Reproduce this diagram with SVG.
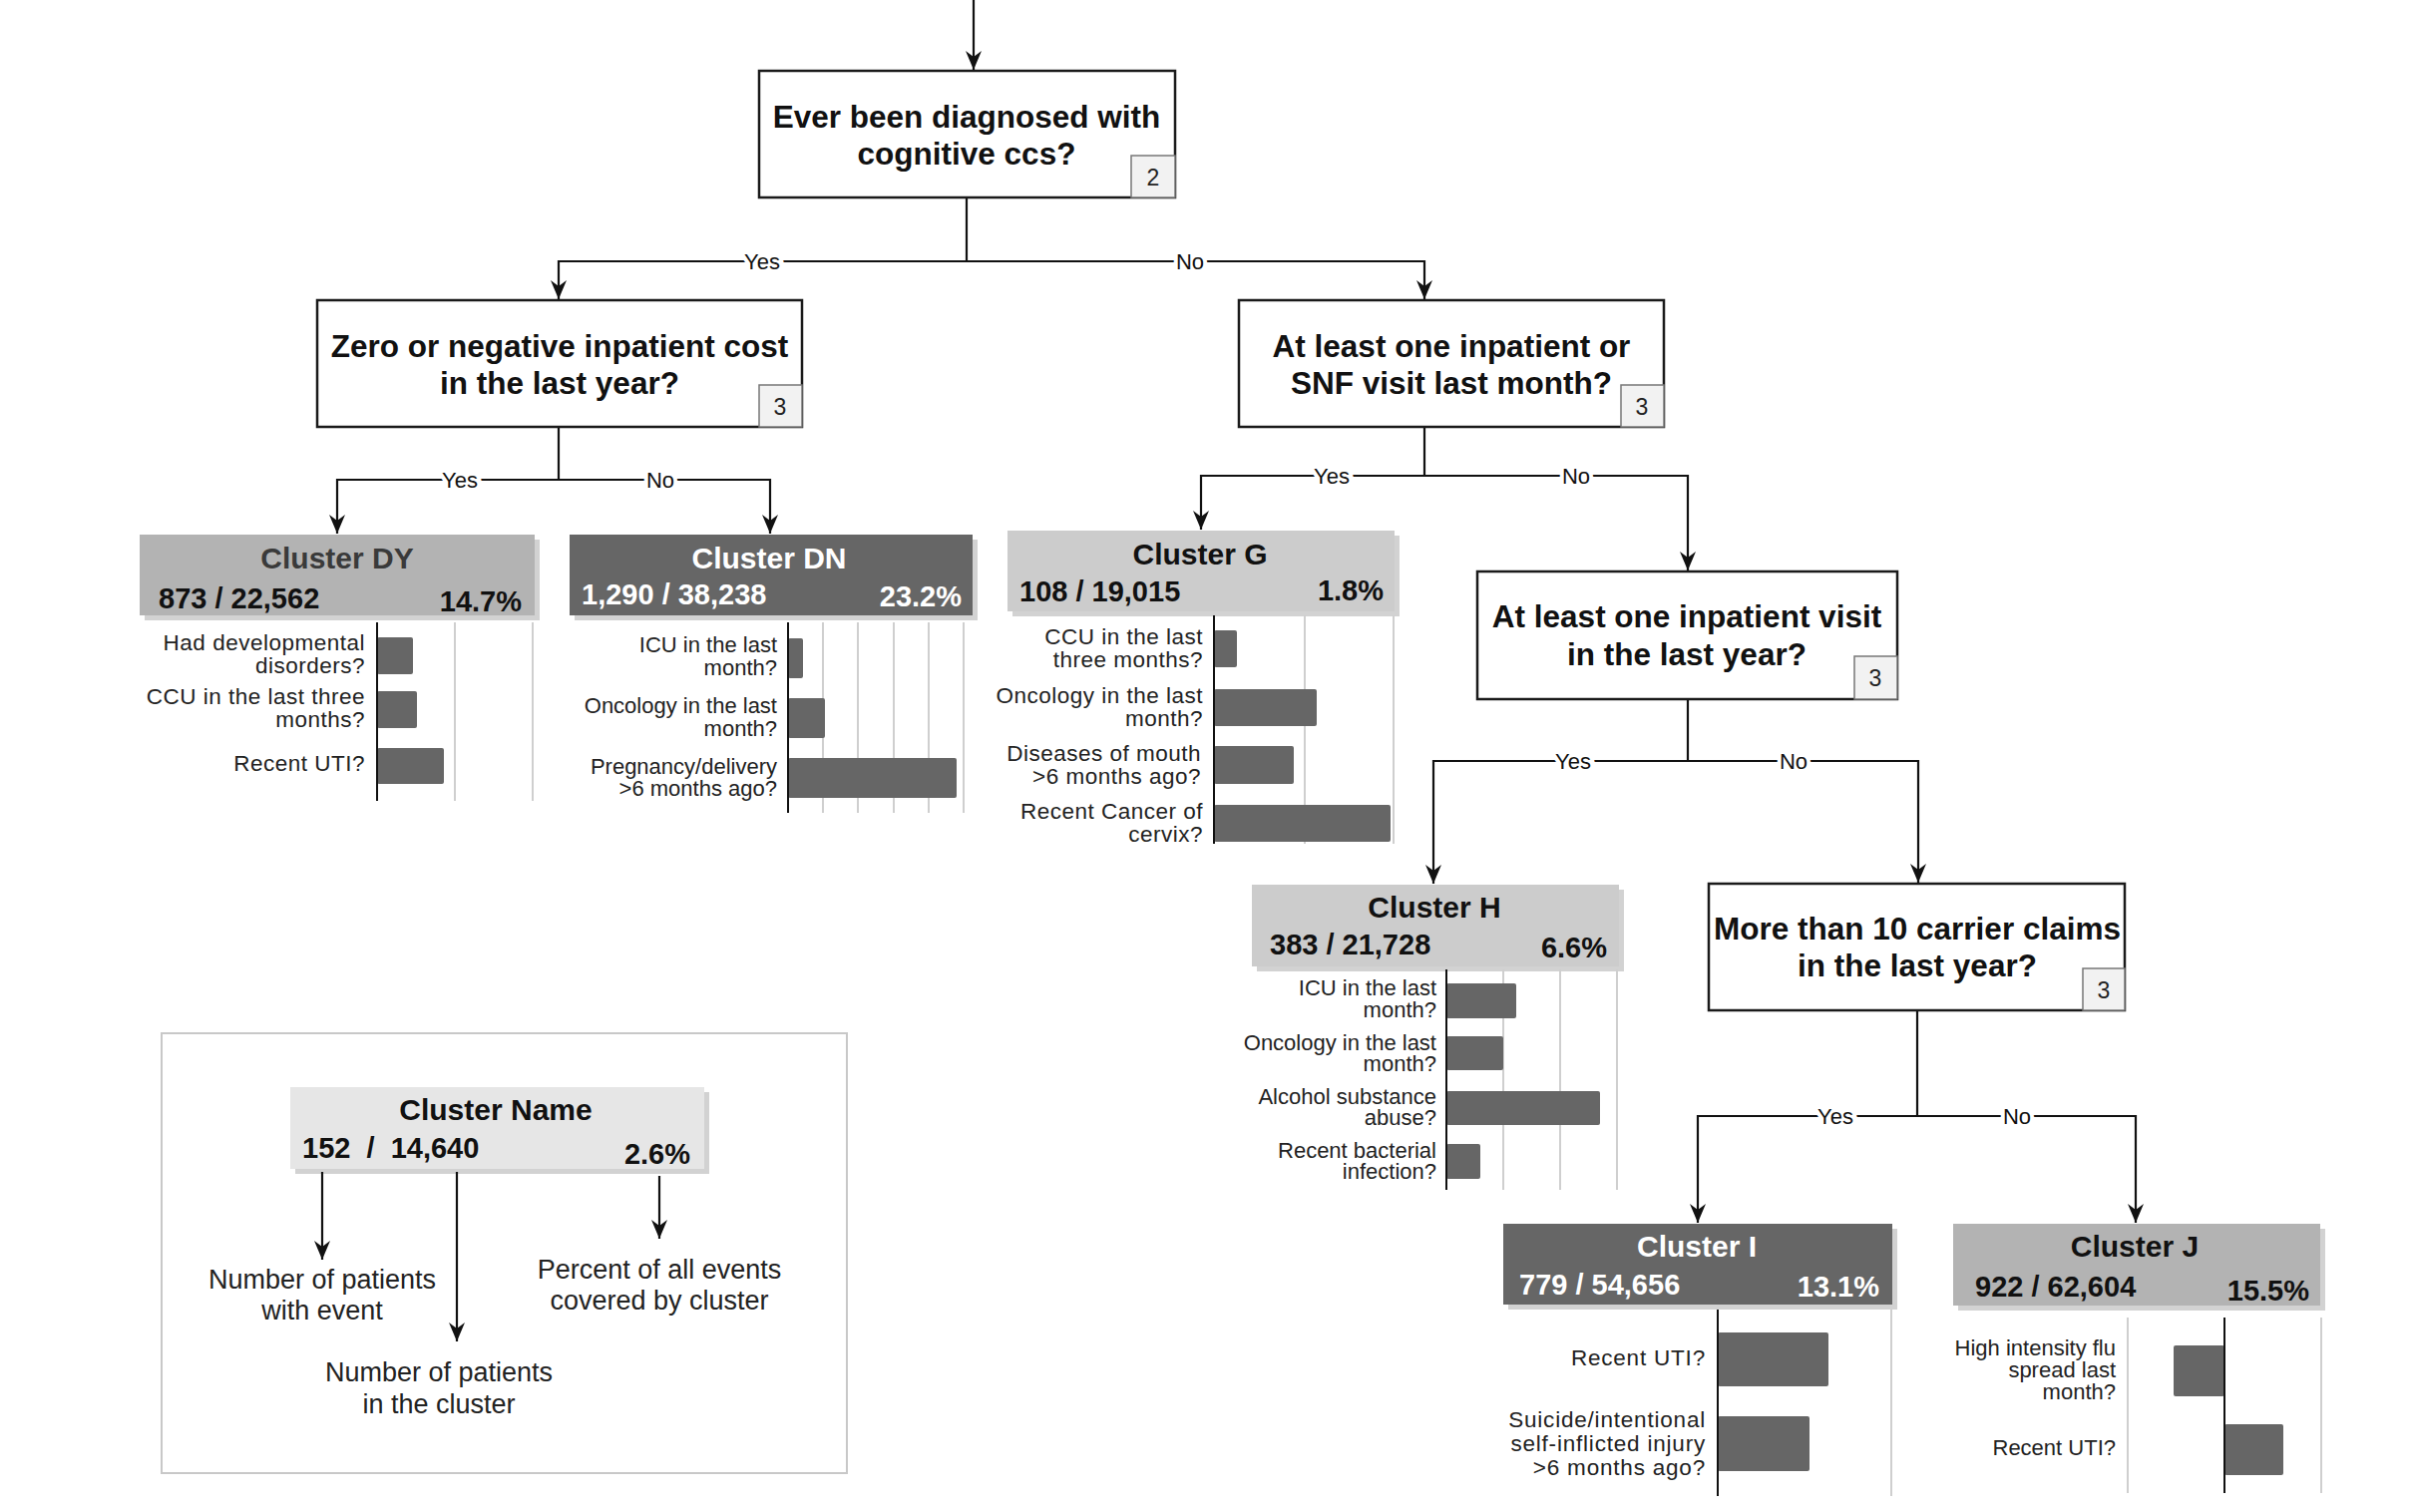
<svg xmlns="http://www.w3.org/2000/svg" width="2420" height="1516" viewBox="0 0 2420 1516">
<style>
text{font-family:"Liberation Sans",Arial,sans-serif}
.q{fill:#fff;stroke:#1a1a1a;stroke-width:2.5}
.badge{fill:#f2f2f2;stroke:#777;stroke-width:1.5}
.bt{font-size:23px;fill:#222;text-anchor:middle}
.qt{font-size:31.5px;font-weight:bold;fill:#111;text-anchor:middle}
.conn{fill:none;stroke:#111;stroke-width:2.2}
.yn{font-size:22px;fill:#111;text-anchor:middle;paint-order:stroke;stroke:#fff;stroke-width:8px}
.sh{fill:#d2d2d2}
.ct{font-size:30px;font-weight:bold;text-anchor:middle}
.num{font-size:29px;font-weight:bold}
.pct{font-size:29px;font-weight:bold;text-anchor:end}
.lb{font-size:22.5px;letter-spacing:0.5px;fill:#222;text-anchor:end}
.tight .lb{font-size:22px;letter-spacing:0}
.wide .lb{letter-spacing:0.8px}
.ax{stroke:#111;stroke-width:2}
.gr{stroke:#cfcfcf;stroke-width:2}
.bar{fill:#666}
.lg{font-size:27px;fill:#222;text-anchor:middle}
</style>
<defs>
<marker id="ar" viewBox="-20 -10 22 20" refX="0" refY="0" markerWidth="22" markerHeight="20" markerUnits="userSpaceOnUse" orient="auto">
<path d="M0 0 L-19 -8 L-13 0 L-19 8 Z" fill="#111"/>
</marker>
</defs>
<rect width="2420" height="1516" fill="#fff"/>

<g id="connectors">
<path class="conn" d="M976 0 V70" marker-end="url(#ar)"/>
<path class="conn" d="M969 198 V262 H560 V300" marker-end="url(#ar)"/>
<path class="conn" d="M969 262 H1428 V300" marker-end="url(#ar)"/>
<path class="conn" d="M560 428 V481 H338 V535" marker-end="url(#ar)"/>
<path class="conn" d="M560 481 H772 V535" marker-end="url(#ar)"/>
<path class="conn" d="M1428 428 V477 H1204 V531" marker-end="url(#ar)"/>
<path class="conn" d="M1428 477 H1692 V572" marker-end="url(#ar)"/>
<path class="conn" d="M1692 701 V763 H1437 V886" marker-end="url(#ar)"/>
<path class="conn" d="M1692 763 H1923 V885" marker-end="url(#ar)"/>
<path class="conn" d="M1922 1013 V1119 H1702 V1226" marker-end="url(#ar)"/>
<path class="conn" d="M1922 1119 H2141 V1226" marker-end="url(#ar)"/>
<text class="yn" x="764" y="270">Yes</text>
<text class="yn" x="1193" y="270">No</text>
<text class="yn" x="461" y="489">Yes</text>
<text class="yn" x="662" y="489">No</text>
<text class="yn" x="1335" y="485">Yes</text>
<text class="yn" x="1580" y="485">No</text>
<text class="yn" x="1577" y="771">Yes</text>
<text class="yn" x="1798" y="771">No</text>
<text class="yn" x="1840" y="1127">Yes</text>
<text class="yn" x="2022" y="1127">No</text>
</g>

<g id="q-cognitive">
<rect class="q" x="761" y="71" width="417" height="127"/>
<text class="qt" x="969" y="128">Ever been diagnosed with</text>
<text class="qt" x="969" y="165">cognitive ccs?</text>
<rect class="badge" x="1134" y="156" width="44" height="42"/>
<text class="bt" x="1156" y="186">2</text>
</g>

<g id="q-cost">
<rect class="q" x="318" y="301" width="486" height="127"/>
<text class="qt" x="561" y="358">Zero or negative inpatient cost</text>
<text class="qt" x="561" y="395">in the last year?</text>
<rect class="badge" x="761" y="386" width="43" height="42"/>
<text class="bt" x="782" y="416">3</text>
</g>

<g id="q-snf">
<rect class="q" x="1242" y="301" width="426" height="127"/>
<text class="qt" x="1455" y="358">At least one inpatient or</text>
<text class="qt" x="1455" y="395">SNF visit last month?</text>
<rect class="badge" x="1625" y="386" width="43" height="42"/>
<text class="bt" x="1646" y="416">3</text>
</g>

<g id="q-inpatient-year">
<rect class="q" x="1481" y="573" width="421" height="128"/>
<text class="qt" x="1691" y="629">At least one inpatient visit</text>
<text class="qt" x="1691" y="667">in the last year?</text>
<rect class="badge" x="1859" y="658" width="43" height="43"/>
<text class="bt" x="1880" y="688">3</text>
</g>

<g id="q-carrier">
<rect class="q" x="1713" y="886" width="417" height="127"/>
<text class="qt" x="1922" y="942">More than 10 carrier claims</text>
<text class="qt" x="1922" y="979">in the last year?</text>
<rect class="badge" x="2088" y="971" width="42" height="42"/>
<text class="bt" x="2109" y="1001">3</text>
</g>

<g id="cluster-dy">
<rect class="sh" x="145" y="541" width="396" height="81"/>
<rect x="140" y="536" width="396" height="81" fill="#b3b3b3"/>
<text class="ct" x="338" y="570" fill="#3a3a3a">Cluster DY</text>
<text class="num" x="159" y="610" fill="#111">873 / 22,562</text>
<text class="pct" x="523" y="613" fill="#111">14.7%</text>
<line class="gr" x1="456" y1="624" x2="456" y2="803"/>
<line class="gr" x1="534" y1="624" x2="534" y2="803"/>
<rect class="bar" x="378" y="639" width="36" height="37" rx="2"/>
<rect class="bar" x="378" y="693" width="40" height="37" rx="2"/>
<rect class="bar" x="378" y="750" width="67" height="36" rx="2"/>
<line class="ax" x1="378" y1="624" x2="378" y2="803"/>
<text class="lb" x="366" y="652">Had developmental</text>
<text class="lb" x="366" y="675">disorders?</text>
<text class="lb" x="366" y="706">CCU in the last three</text>
<text class="lb" x="366" y="729">months?</text>
<text class="lb" x="366" y="773">Recent UTI?</text>
</g>

<g id="cluster-dn" class="tight">
<rect class="sh" x="576" y="541" width="404" height="81"/>
<rect x="571" y="536" width="404" height="81" fill="#666"/>
<text class="ct" x="771" y="570" fill="#fff">Cluster DN</text>
<text class="num" x="583" y="606" fill="#fff">1,290 / 38,238</text>
<text class="pct" x="964" y="608" fill="#fff">23.2%</text>
<line class="gr" x1="825" y1="624" x2="825" y2="815"/>
<line class="gr" x1="860" y1="624" x2="860" y2="815"/>
<line class="gr" x1="896" y1="624" x2="896" y2="815"/>
<line class="gr" x1="931" y1="624" x2="931" y2="815"/>
<line class="gr" x1="966" y1="624" x2="966" y2="815"/>
<rect class="bar" x="790" y="640" width="15" height="40" rx="2"/>
<rect class="bar" x="790" y="700" width="37" height="40" rx="2"/>
<rect class="bar" x="790" y="760" width="169" height="40" rx="2"/>
<line class="ax" x1="790" y1="624" x2="790" y2="815"/>
<text class="lb" x="779" y="654">ICU in the last</text>
<text class="lb" x="779" y="677">month?</text>
<text class="lb" x="779" y="715">Oncology in the last</text>
<text class="lb" x="779" y="738">month?</text>
<text class="lb" x="779" y="776">Pregnancy/delivery</text>
<text class="lb" x="779" y="798">&gt;6 months ago?</text>
</g>

<g id="cluster-g">
<rect class="sh" x="1015" y="537" width="388" height="81"/>
<rect x="1010" y="532" width="388" height="81" fill="#ccc"/>
<text class="ct" x="1203" y="566" fill="#111">Cluster G</text>
<text class="num" x="1022" y="603" fill="#111">108 / 19,015</text>
<text class="pct" x="1387" y="602" fill="#111">1.8%</text>
<line class="gr" x1="1308" y1="617" x2="1308" y2="846"/>
<line class="gr" x1="1397" y1="617" x2="1397" y2="846"/>
<rect class="bar" x="1217" y="632" width="23" height="37" rx="2"/>
<rect class="bar" x="1217" y="691" width="103" height="37" rx="2"/>
<rect class="bar" x="1217" y="748" width="80" height="38" rx="2"/>
<rect class="bar" x="1217" y="807" width="177" height="37" rx="2"/>
<line class="ax" x1="1217" y1="617" x2="1217" y2="846"/>
<text class="lb" x="1206" y="646">CCU in the last</text>
<text class="lb" x="1206" y="669">three months?</text>
<text class="lb" x="1206" y="705">Oncology in the last</text>
<text class="lb" x="1206" y="728">month?</text>
<text class="lb" x="1204" y="763">Diseases of mouth</text>
<text class="lb" x="1204" y="786">&gt;6 months ago?</text>
<text class="lb" x="1206" y="821">Recent Cancer of</text>
<text class="lb" x="1206" y="844">cervix?</text>
</g>

<g id="cluster-h" class="tight">
<rect class="sh" x="1260" y="892" width="368" height="82"/>
<rect x="1255" y="887" width="368" height="82" fill="#ccc"/>
<text class="ct" x="1438" y="920" fill="#111">Cluster H</text>
<text class="num" x="1273" y="957" fill="#111">383 / 21,728</text>
<text class="pct" x="1611" y="960" fill="#111">6.6%</text>
<line class="gr" x1="1507" y1="972" x2="1507" y2="1193"/>
<line class="gr" x1="1564" y1="972" x2="1564" y2="1193"/>
<line class="gr" x1="1621" y1="972" x2="1621" y2="1193"/>
<rect class="bar" x="1450" y="986" width="70" height="35" rx="2"/>
<rect class="bar" x="1450" y="1039" width="57" height="34" rx="2"/>
<rect class="bar" x="1450" y="1094" width="154" height="34" rx="2"/>
<rect class="bar" x="1450" y="1147" width="34" height="35" rx="2"/>
<line class="ax" x1="1450" y1="972" x2="1450" y2="1193"/>
<text class="lb" x="1440" y="998">ICU in the last</text>
<text class="lb" x="1440" y="1020">month?</text>
<text class="lb" x="1440" y="1053">Oncology in the last</text>
<text class="lb" x="1440" y="1074">month?</text>
<text class="lb" x="1440" y="1107">Alcohol substance</text>
<text class="lb" x="1440" y="1128">abuse?</text>
<text class="lb" x="1440" y="1161">Recent bacterial</text>
<text class="lb" x="1440" y="1182">infection?</text>
</g>

<g id="cluster-i" class="wide">
<rect class="sh" x="1512" y="1232" width="390" height="81"/>
<rect x="1507" y="1227" width="390" height="81" fill="#666"/>
<text class="ct" x="1701" y="1260" fill="#fff">Cluster I</text>
<text class="num" x="1523" y="1298" fill="#fff">779 / 54,656</text>
<text class="pct" x="1884" y="1300" fill="#fff">13.1%</text>
<line class="gr" x1="1896" y1="1313" x2="1896" y2="1500"/>
<rect class="bar" x="1722" y="1336" width="111" height="54" rx="2"/>
<rect class="bar" x="1722" y="1420" width="92" height="55" rx="2"/>
<line class="ax" x1="1722" y1="1313" x2="1722" y2="1500"/>
<text class="lb" x="1710" y="1369">Recent UTI?</text>
<text class="lb" x="1710" y="1431">Suicide/intentional</text>
<text class="lb" x="1710" y="1455">self-inflicted injury</text>
<text class="lb" x="1710" y="1479">&gt;6 months ago?</text>
</g>

<g id="cluster-j" class="tight">
<rect class="sh" x="1963" y="1232" width="368" height="82"/>
<rect x="1958" y="1227" width="368" height="82" fill="#b3b3b3"/>
<text class="ct" x="2140" y="1260" fill="#111">Cluster J</text>
<text class="num" x="1980" y="1300" fill="#111">922 / 62,604</text>
<text class="pct" x="2315" y="1304" fill="#111">15.5%</text>
<line class="gr" x1="2133" y1="1321" x2="2133" y2="1497"/>
<line class="gr" x1="2327" y1="1321" x2="2327" y2="1497"/>
<rect class="bar" x="2179" y="1349" width="51" height="51" rx="2"/>
<rect class="bar" x="2230" y="1428" width="59" height="51" rx="2"/>
<line class="ax" x1="2230" y1="1321" x2="2230" y2="1497"/>
<text class="lb" x="2121" y="1359">High intensity flu</text>
<text class="lb" x="2121" y="1381">spread last</text>
<text class="lb" x="2121" y="1403">month?</text>
<text class="lb" x="2121" y="1459">Recent UTI?</text>
</g>

<g id="legend">
<rect x="162" y="1036" width="687" height="441" fill="#fff" stroke="#c8c8c8" stroke-width="2"/>
<rect class="sh" x="296" y="1095" width="415" height="82"/>
<rect x="291" y="1090" width="415" height="82" fill="#e6e6e6"/>
<text class="ct" x="497" y="1123" fill="#111">Cluster Name</text>
<text class="num" x="303" y="1161" fill="#111" xml:space="preserve">152  /  14,640</text>
<text class="pct" x="692" y="1167" fill="#111">2.6%</text>
<path class="conn" d="M323 1175 V1263" marker-end="url(#ar)"/>
<path class="conn" d="M458 1175 V1345" marker-end="url(#ar)"/>
<path class="conn" d="M661 1179 V1242" marker-end="url(#ar)"/>
<text class="lg" x="323" y="1292">Number of patients</text>
<text class="lg" x="323" y="1323">with event</text>
<text class="lg" x="440" y="1385">Number of patients</text>
<text class="lg" x="440" y="1417">in the cluster</text>
<text class="lg" x="661" y="1282">Percent of all events</text>
<text class="lg" x="661" y="1313">covered by cluster</text>
</g>
</svg>
